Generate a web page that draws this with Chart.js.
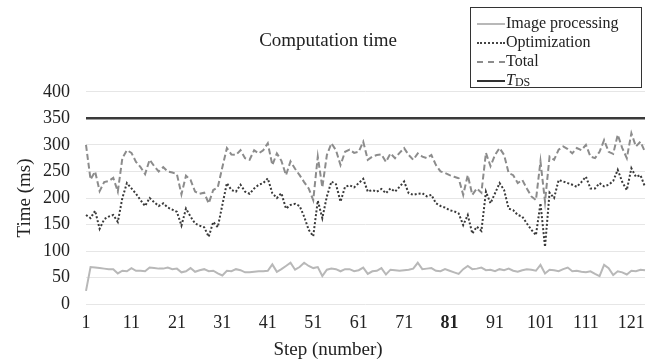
<!DOCTYPE html>
<html>
<head>
<meta charset="utf-8">
<script src="https://cdn.jsdelivr.net/npm/chart.js@4.4.1/dist/chart.umd.min.js"></script>
<style>
  html, body { margin: 0; padding: 0; background: #fff; }
  #wrap { position: relative; width: 653px; height: 364px; }
  #legend {
    position: absolute; left: 470px; top: 7px; width: 170px; height: 79px;
    border: 1px solid #333; background: #fff;
    font-family: "Liberation Serif", serif; font-size: 16px; color: #222;
  }
  #legend .row { position: absolute; left: 6px; height: 19px; line-height: 19px; white-space: nowrap; }
  #legend .sample { display: inline-block; width: 28px; vertical-align: middle; margin-right: 1px; }
  #legend sub { font-size: 12px; vertical-align: -1px; }
</style>
</head>
<body>
<div id="wrap">
  <canvas id="chart" width="653" height="364"></canvas>
  <div id="legend">
    <div class="row" style="top:5px"><span class="sample" style="border-top:2px solid #b8b8b8"></span>Image processing</div>
    <div class="row" style="top:24px"><span class="sample" style="border-top:2px dotted #444"></span>Optimization</div>
    <div class="row" style="top:43px"><span class="sample" style="border-top:2px dashed #8c8c8c"></span>Total</div>
    <div class="row" style="top:62px"><span class="sample" style="border-top:2px solid #333"></span><i>T</i><sub>DS</sub></div>
  </div>
</div>
<script>
const steps = Array.from({ length: 124 }, (_, i) => String(i + 1));

const imageProcessing = [
  25, 70, 69, 68, 67, 66, 66, 58, 63, 62, 68, 63, 63, 62, 69, 68, 67, 67, 69, 66,
  67, 60, 62, 68, 61, 64, 66, 62, 63, 58, 54, 63, 62, 66, 64, 60, 60, 61, 62, 62,
  63, 75, 61, 66, 72, 78, 65, 70, 78, 72, 68, 70, 53, 65, 67, 66, 62, 66, 66, 62,
  64, 69, 57, 62, 63, 68, 56, 65, 64, 63, 64, 65, 67, 78, 66, 67, 68, 63, 62, 66,
  63, 60, 57, 66, 72, 66, 67, 69, 64, 65, 62, 66, 64, 67, 63, 61, 64, 66, 65, 63,
  74, 58, 65, 64, 62, 66, 69, 62, 63, 61, 60, 62, 57, 53, 74, 68, 55, 62, 60, 56,
  63, 62, 65, 64
];

const optimization = [
  168, 162, 176, 142, 160, 165, 168, 155, 200, 228, 218, 208, 196, 185, 200, 192, 185, 190, 182, 178,
  174, 148, 180, 165, 152, 148, 145, 127, 155, 145, 187, 228, 215, 212, 225, 212, 208, 218, 225, 228,
  237, 209, 200, 209, 180, 187, 189, 185, 165, 140, 128, 195, 162, 203, 231, 226, 193, 221, 224, 220,
  228, 236, 212, 215, 212, 217, 209, 218, 212, 221, 231, 209, 206, 208, 209, 203, 206, 190, 185, 182,
  177, 175, 171, 149, 168, 133, 146, 138, 212, 190, 209, 228, 215, 180, 177, 168, 165, 152, 140, 130,
  190, 108, 210, 200, 234, 231, 228, 225, 221, 230, 240, 218, 218, 228, 222, 225, 232, 253, 230, 215,
  256, 240, 243, 221
];

const total = [
  300, 235, 250, 213, 230, 232, 238, 212, 275, 290, 285, 268, 258, 245, 272, 260, 250, 258, 250, 248,
  245, 207, 242, 234, 212, 208, 210, 190, 215, 220, 258, 294, 282, 281, 290, 275, 272, 290, 284, 290,
  303, 262, 284, 270, 243, 269, 255, 243, 230, 218, 196, 278, 220, 281, 303, 290, 262, 287, 291, 285,
  287, 306, 272, 278, 281, 282, 268, 284, 275, 285, 294, 281, 272, 284, 278, 275, 281, 262, 250, 247,
  243, 240, 237, 206, 243, 206, 218, 210, 285, 260, 281, 294, 281, 247, 243, 228, 234, 218, 203, 196,
  269, 193, 278, 272, 291, 297, 292, 284, 294, 290, 300, 278, 275, 287, 309, 287, 283, 319, 294, 275,
  322, 297, 306, 287
];

const tdsLimit = 350;
const yTicks = [0, 50, 100, 150, 200, 250, 300, 350, 400];

const serif = "'Liberation Serif', 'Times New Roman', serif";

new Chart(document.getElementById("chart"), {
  type: "line",
  data: {
    labels: steps,
    datasets: [
      {
        label: "Image processing",
        data: imageProcessing,
        borderColor: "#b8b8b8",
        borderWidth: 2
      },
      {
        label: "Optimization",
        data: optimization,
        borderColor: "#3a3a3a",
        borderWidth: 2,
        borderDash: [2, 2]
      },
      {
        label: "Total",
        data: total,
        borderColor: "#8c8c8c",
        borderWidth: 2,
        borderDash: [6, 3]
      },
      {
        label: "TDS",
        data: steps.map(() => tdsLimit),
        borderColor: "#3a3a3a",
        borderWidth: 2.5
      }
    ]
  },
  options: {
    responsive: false,
    animation: false,
    elements: { point: { radius: 0 }, line: { tension: 0 } },
    layout: { padding: { left: 10, right: 7, top: 0, bottom: 0 } },
    plugins: {
      legend: { display: false },
      tooltip: { enabled: false },
      title: {
        display: true,
        text: "Computation time",
        color: "#222",
        font: { family: serif, size: 19, weight: "normal" },
        padding: { top: 30, bottom: 39 }
      },
      subtitle: {
        display: true,
        position: "bottom",
        text: "Step (number)",
        color: "#222",
        font: { family: serif, size: 19, weight: "normal" },
        padding: { top: 4, bottom: 3 }
      }
    },
    scales: {
      x: {
        offset: false,
        grid: { display: false, drawTicks: false },
        border: { display: false },
        afterFit: axis => { axis.height = 30; },
        ticks: {
          autoSkip: false,
          maxRotation: 0,
          padding: 8,
          color: "#222",
          font: ctx => ({
            family: serif,
            size: 18,
            weight: ctx.tick && ctx.tick.label === "81" ? "bold" : "normal"
          }),
          callback: (v, i) => (i % 10 === 0 ? steps[i] : "")
        }
      },
      y: {
        min: 0,
        max: 400,
        afterBuildTicks: axis => { axis.ticks = yTicks.map(v => ({ value: v })); },
        afterFit: axis => { axis.width = 76; },
        grid: { color: "#e6e6e6", drawTicks: false },
        border: { display: false },
        ticks: {
          padding: 16,
          color: "#222",
          font: { family: serif, size: 18 }
        },
        title: {
          display: true,
          text: "Time (ms)",
          color: "#222",
          font: { family: serif, size: 19 },
          padding: { top: 4, bottom: 4 }
        }
      }
    }
  }
});
</script>
</body>
</html>
